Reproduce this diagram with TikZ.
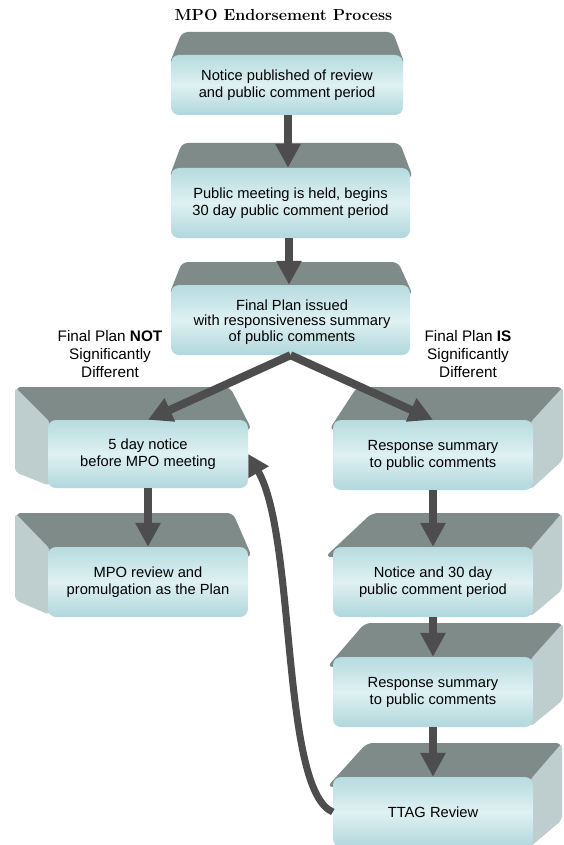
\documentclass[tikz,border=0pt]{standalone}
\usepackage{fontspec}
\setsansfont{Liberation Sans}
\usetikzlibrary{arrows.meta}
\definecolor{topgray}{RGB}{127,139,137}
\definecolor{sidegray}{RGB}{190,205,205}
\definecolor{facetop}{RGB}{182,219,223}
\definecolor{facemid}{RGB}{223,241,243}
\definecolor{facebot}{RGB}{176,215,220}
\definecolor{arrowgray}{RGB}{77,77,77}
\tikzset{
  topface/.style={fill=topgray, rounded corners=6pt},
  sideface/.style={fill=sidegray, rounded corners=4pt},
  front/.style={rounded corners=8pt, top color=facetop, bottom color=facebot, middle color=facemid,
    inner sep=0pt, align=center, minimum width=200pt, minimum height=70pt,
    font=\sffamily\fontsize{14.7}{17}\selectfont},
  boxtext/.style={inner sep=0pt, align=center, font=\sffamily\fontsize{14.7}{15.5}\selectfont},
  lbl/.style={inner sep=0pt, align=center, font=\sffamily\fontsize{15.3}{18}\selectfont},
  flow/.style={draw=arrowgray, line width=8pt, -{Triangle[width=24pt,length=24pt]}},
  backflow/.style={draw=arrowgray, line width=7pt, -{Triangle[width=22pt,length=21pt]}}
}
\begin{document}
\begin{tikzpicture}[x=1pt,y=-1pt]
\fill[white] (0,0) rectangle (564,845);
\useasboundingbox (0,0) rectangle (564,845);

% title
\node[inner sep=0pt, anchor=base, font=\bfseries\fontsize{16}{19}\selectfont] (title) at (283.5,20.5) {MPO Endorsement Process};

% ---- back faces (top and side) ----
% centre column
\fill[topface] (182,32) -- (393,32) -- (405,65) -- (169,65) -- cycle;
\fill[topface] (182,143) -- (400,143) -- (413,178) -- (169,178) -- cycle;
\fill[topface] (182,262) -- (398,262) -- (413,295) -- (169,295) -- cycle;
% left column
\fill[topface] (15,387) -- (230,387) -- (252,430) -- (38,430) -- cycle;
\fill[sideface] (15,387) -- (50,422) -- (50,486) -- (15,472) -- cycle;
\fill[topface] (15,513) -- (233,513) -- (252,557) -- (38,557) -- cycle;
\fill[sideface] (15,513) -- (50,549) -- (50,615) -- (15,600) -- cycle;
% right column
\fill[topface] (357,387) -- (563,387) -- (556,430) -- (329,430) -- cycle;
\fill[sideface] (530,423) -- (563,387) -- (563,460) -- (530,490) -- cycle;
\fill[topface] (372,513) -- (562,513) -- (556,557) -- (325,557) -- cycle;
\fill[sideface] (530,550) -- (562,513) -- (562,590) -- (530,617) -- cycle;
\fill[topface] (365,623) -- (563,623) -- (556,667) -- (327,667) -- cycle;
\fill[sideface] (530,660) -- (563,623) -- (563,700) -- (530,727) -- cycle;
\fill[topface] (367,743) -- (562,743) -- (556,787) -- (327,787) -- cycle;
\fill[sideface] (530,780) -- (562,743) -- (562,820) -- (530,847) -- cycle;

% ---- front faces ----
\node[front, minimum width=232pt, minimum height=60pt] (b1) at (287,85) {Notice published of review\\and public comment period};
\node[front, minimum width=239pt] (b2) at (290.5,203) {Public meeting is held, begins\\30 day public comment period};
\node[front, minimum width=239pt] (b3) at (290.5,320) {};
\begin{scope}
  \clip (171,280) rectangle (410,344);
  \node[boxtext] (b3t) at (292,322) {Final Plan issued\\with responsiveness summary\\of public comments};
\end{scope}

\node[front, minimum height=68pt] (l1) at (148,454) {5 day notice\\before MPO meeting};
\node[front] (l2) at (148,582) {MPO review and\\promulgation as the Plan};

\node[front] (r1) at (433,455) {Response summary\\to public comments};
\node[front] (r2) at (433,582) {Notice and 30 day\\public comment period};
\node[front] (r3) at (433,692) {Response summary\\to public comments};
\node[front] (ttag) at (433,812) {TTAG Review};

% labels
\node[lbl] (notlbl) at (110,354.5) {Final Plan \textbf{NOT}\\Significantly\\Different};
\node[lbl] (islbl) at (468,354.5) {Final Plan \textbf{IS}\\Significantly\\Different};

% ---- connectors ----
\draw[flow] (b1.south -| 288,0) -- (b2.north -| 288,0);
\draw[flow] (b2.south -| 289,0) -- (b3.north -| 289,0);
\draw[flow] (b3.south) -- (l1.north);
\draw[flow] (b3.south) -- (r1.north);
\draw[flow] (l1.south) -- (l2.north);
\draw[flow] (r1.south) -- (r2.north);
\draw[flow] (r2.south) -- (r3.north);
\draw[flow] (r3.south) -- (ttag.north);
\draw[backflow] (ttag.west) .. controls +(-52,-22) and +(48,83) .. (l1.east);
\end{tikzpicture}
\end{document}
